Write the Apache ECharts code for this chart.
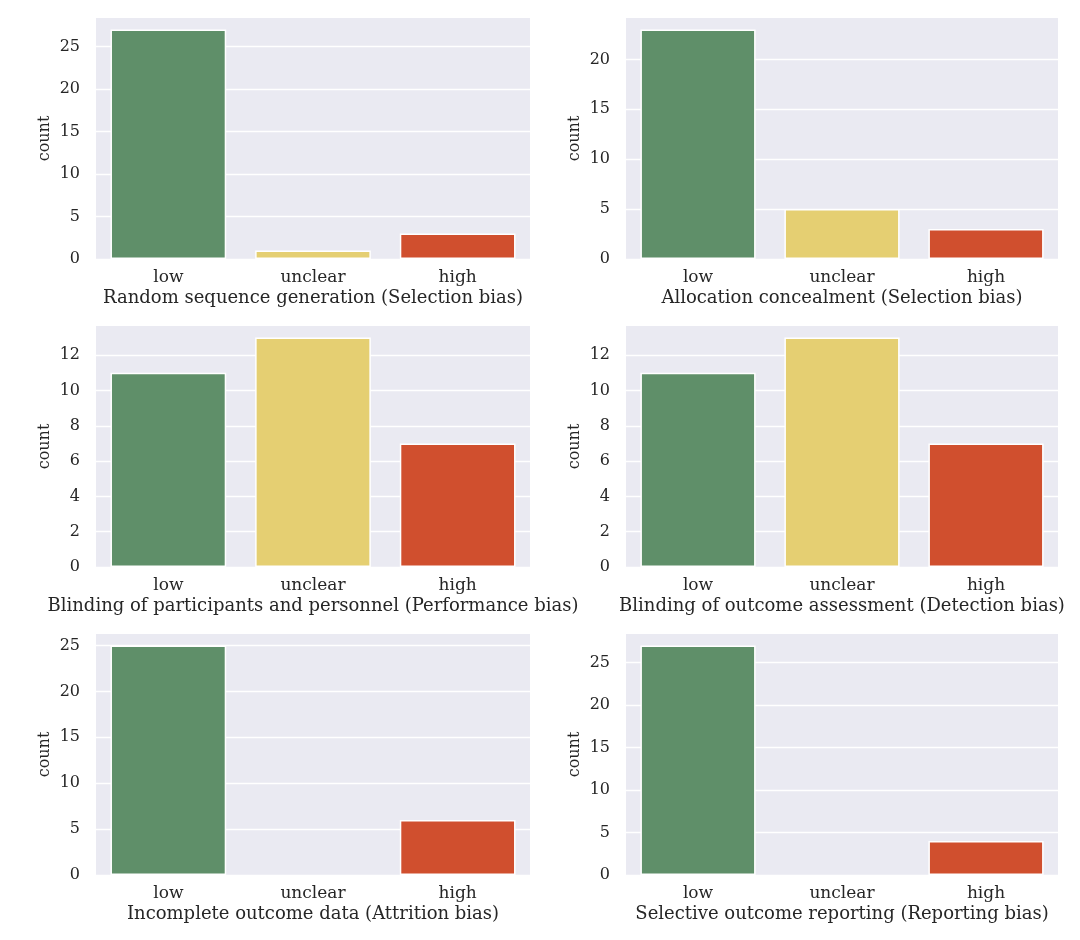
<!DOCTYPE html>
<html>
<head>
<meta charset="utf-8">
<script src="https://cdn.jsdelivr.net/npm/echarts@6/dist/echarts.min.js"></script>
<style>
html,body{margin:0;padding:0;background:#fff;}
#chart{width:1080px;height:940px;}
</style>
</head>
<body>
<div id="chart"></div>
<script>
const categories = ['low', 'unclear', 'high'];
const titles = [
  'Random sequence generation (Selection bias)',
  'Allocation concealment (Selection bias)',
  'Blinding of participants and personnel (Performance bias)',
  'Blinding of outcome assessment (Detection bias)',
  'Incomplete outcome data (Attrition bias)',
  'Selective outcome reporting (Reporting bias)'
];
const randomSequence = [27, 1, 3];
const allocationConcealment = [23, 5, 3];
const blindingParticipants = [11, 13, 7];
const blindingOutcome = [11, 13, 7];
const incompleteOutcome = [25, 0, 6];
const selectiveReporting = [27, 0, 4];
const panelValues = [randomSequence, allocationConcealment, blindingParticipants, blindingOutcome, incompleteOutcome, selectiveReporting];
const axisMax = [28.35, 24.15, 13.65, 13.65, 26.25, 28.35];
const axisInterval = [5, 5, 2, 2, 5, 5];
const barColors = ['#5F8F69', '#E5CF72', '#D04F2E'];

const font = 'DejaVu Serif';
const textColor = '#262626';
const colLeft = [96, 626];
const colWidth = [434, 432];
const rowTop = [18, 326, 634];
const plotHeight = 241;

const grids = [], xAxes = [], yAxes = [], series = [];
for (let i = 0; i < 6; i++) {
  const c = i % 2, r = Math.floor(i / 2);
  grids.push({
    left: colLeft[c], top: rowTop[r], width: colWidth[c], height: plotHeight,
    show: true, backgroundColor: '#EAEAF2', borderWidth: 0, containLabel: false
  });
  xAxes.push({
    type: 'category', gridIndex: i, data: categories,
    axisLine: {show: false}, axisTick: {show: false},
    axisLabel: {fontFamily: font, fontSize: 17, color: textColor, margin: 10},
    name: titles[i], nameLocation: 'middle', nameGap: 30,
    nameTextStyle: {fontFamily: font, fontSize: 18, color: textColor}
  });
  yAxes.push({
    type: 'value', gridIndex: i, min: 0, max: axisMax[i], interval: axisInterval[i],
    axisLine: {show: false}, axisTick: {show: false},
    axisLabel: {fontFamily: font, fontSize: 16, color: textColor, margin: 16, showMaxLabel: false},
    splitLine: {show: true, showMaxLine: false, lineStyle: {color: '#ffffff', width: 1.3}},
    name: 'count', nameLocation: 'middle', nameGap: 43, nameRotate: 90,
    nameTextStyle: {fontFamily: font, fontSize: 16, color: textColor}
  });
  series.push({
    type: 'bar', xAxisIndex: i, yAxisIndex: i,
    data: panelValues[i].map(v => ({value: v, itemStyle: {borderWidth: v === 0 ? 0 : 1.5}})),
    barCategoryGap: '20%',
    itemStyle: {
      color: p => barColors[p.dataIndex],
      borderColor: '#ffffff', borderWidth: 1.5
    },
    emphasis: {disabled: true}
  });
}

const chart = echarts.init(document.getElementById('chart'), null, {renderer: 'canvas'});
chart.setOption({
  animation: false,
  grid: grids, xAxis: xAxes, yAxis: yAxes, series: series
});
</script>
</body>
</html>
